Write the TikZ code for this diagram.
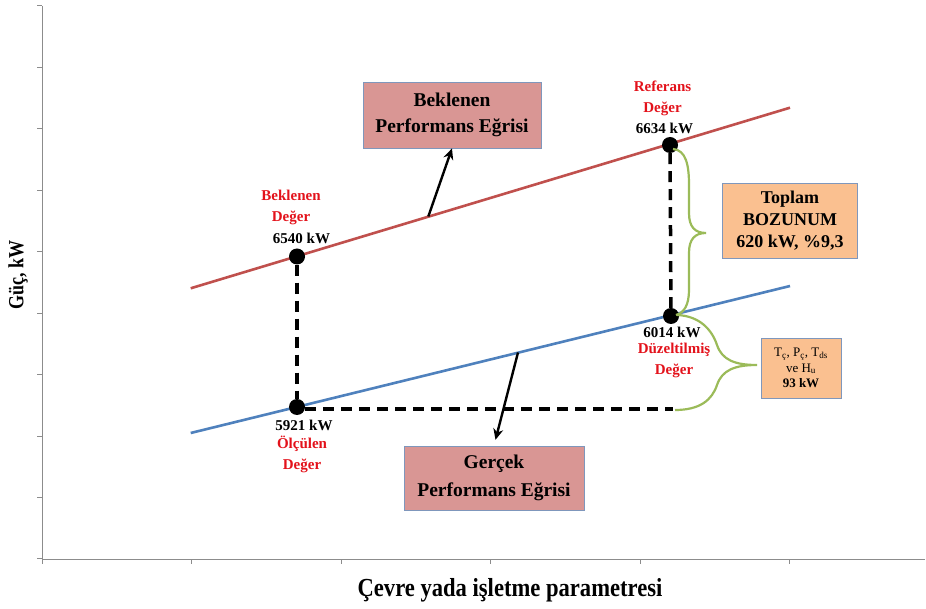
\documentclass[tikz,border=0pt]{standalone}
\usepackage{fontspec}
\setmainfont{Liberation Serif}
\usetikzlibrary{arrows.meta}
\definecolor{curvered}{HTML}{C0504D}
\definecolor{curveblue}{HTML}{4F81BD}
\definecolor{bracegreen}{HTML}{9BBB59}
\definecolor{labelred}{HTML}{E3121B}
\definecolor{boxpink}{HTML}{D99694}
\definecolor{boxorange}{HTML}{FAC090}
\definecolor{boxedge}{HTML}{7F97BC}
\definecolor{axisgray}{HTML}{8C8C8C}

\begin{document}
\begin{tikzpicture}[x=1pt,y=-1pt,
  axis/.style={axisgray, line width=1pt},
  curve/.style={line width=2.6pt},
  guide/.style={line width=3.5pt, dash pattern=on 11pt off 7pt},
  dot/.style={circle, fill=black, inner sep=0pt, minimum size=16pt},
  brace/.style={bracegreen, line width=2.2pt},
  pointer/.style={line width=2.4pt, -{Stealth[length=11pt,width=10pt]}},
  infobox/.style={draw=boxedge, line width=0.8pt, align=center, inner sep=0pt},
  redtext/.style={labelred, font=\fontsize{15}{21}\selectfont\bfseries, align=center, inner sep=0pt},
  valtext/.style={font=\fontsize{15}{21}\selectfont\bfseries, align=center, inner sep=0pt},
]
\useasboundingbox (0,0) rectangle (926,609);

% axes
\draw[axis] (42,6) -- (42,559) -- (925,559);
\foreach \k in {0,...,9} {
  \pgfmathsetmacro{\ty}{6+\k*61.44}
  \draw[axis] (37,\ty) -- (42,\ty);
}
\foreach \k in {0,...,5} {
  \pgfmathsetmacro{\tx}{42+\k*149.5}
  \draw[axis] (\tx,559) -- (\tx,564);
}
\node[font=\fontsize{22.6}{27}\selectfont\bfseries, inner sep=0pt] (xlabel) at (510,590.5)
  {\scalebox{1}[1.15]{Çevre yada işletme parametresi}};
\node[rotate=90, font=\fontsize{18}{22}\selectfont\bfseries, inner sep=0pt] (ylabel) at (18,275)
  {\scalebox{1}[1.2]{Güç, kW}};

% performance curves
\coordinate (rL) at (190.7,288.3);
\coordinate (rR) at (790,107.7);
\coordinate (bL) at (190.7,433);
\coordinate (bR) at (790,286);
\draw[curve, curvered] (rL) -- (rR);
\draw[curve, curveblue] (bL) -- (bR);

% operating points
\node[dot] (pBek) at (297,256.5) {};
\node[dot] (pRef) at (670,145) {};
\node[dot] (pOlc) at (297,407) {};
\node[dot] (pDuz) at (671,316) {};

% projection lines
\coordinate (hEnd) at (673,409);
\draw[guide] (pBek) -- (pOlc);
\draw[guide] (pRef) -- (pDuz);
\draw[guide] (pOlc.east |- hEnd) -- (hEnd);

% braces
\draw[brace] (673,149) .. controls (686,150) and (689,165) .. (689,185) -- (689,213)
  .. controls (689,227) and (695,233) .. (706,233)
  .. controls (695,233) and (689,239) .. (689,253) -- (689,290)
  .. controls (689,305) and (684,313) .. (676,315);
\draw[brace] (677,315) .. controls (700,316) and (712,330) .. (717,345)
  .. controls (722,360) and (735,365) .. (757,365)
  .. controls (735,365) and (722,370) .. (717,385)
  .. controls (712,400) and (700,410) .. (675,410);

% value labels
\node[redtext] (lblBek) at (291,207) {Beklenen\\Değer};
\node[valtext] (valBek) at (301.5,238.5) {6540 kW};
\node[redtext] (lblRef) at (662.5,98.8) {Referans\\Değer};
\node[valtext] (valRef) at (664.5,128.3) {6634 kW};
\node[valtext] (valDuz) at (672,332.7) {6014 kW};
\node[redtext] (lblDuz) at (674,360.4) {Düzeltilmiş\\Değer};
\node[valtext] (valOlc) at (304,425) {5921 kW};
\node[redtext] (lblOlc) at (302,454.5) {Ölçülen\\Değer};

% callout boxes
\node[infobox, fill=boxpink, minimum width=178pt, minimum height=66pt,
  font=\fontsize{19.5}{26.6}\selectfont\bfseries] (bekBox) at (452,115) {Beklenen\\Performans Eğrisi};
\node[infobox, fill=boxpink, minimum width=180pt, minimum height=64pt,
  font=\fontsize{19.5}{28}\selectfont\bfseries] (gerBox) at (494,478) {Gerçek\\Performans Eğrisi};
\node[infobox, fill=boxorange, minimum width=135pt, minimum height=75pt,
  font=\fontsize{18}{22}\selectfont\bfseries] (topBox) at (790,220.5) {Toplam\\BOZUNUM\\620 kW, \%9,3};
\node[infobox, fill=boxorange, minimum width=80pt, minimum height=60pt,
  font=\fontsize{13}{15.5}\selectfont] (envBox) at (801,368) {T\textsubscript{ç}, P\textsubscript{ç}, T\textsubscript{ds}\\ve H\textsubscript{u}\\\textbf{93 kW}};

% pointers from curves to their captions
\coordinate (aR) at (428.3,216.5);
\coordinate (aB) at (518,352.5);
\draw[pointer] (aR) -- (bekBox.south);
\draw[pointer, shorten >=6pt] (aB) -- (gerBox.north);
\end{tikzpicture}
\end{document}
